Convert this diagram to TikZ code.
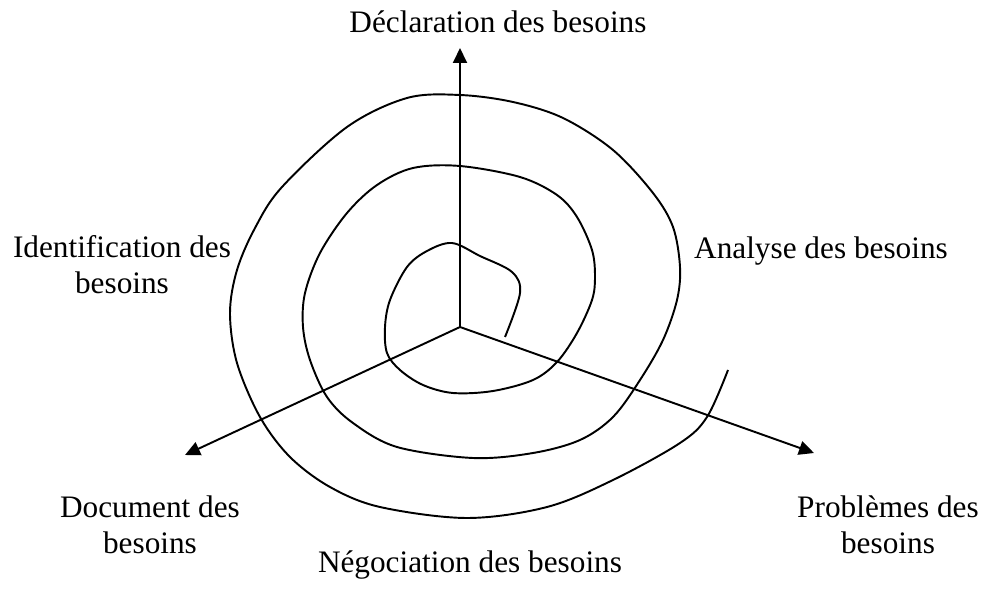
\documentclass[tikz,border=0pt]{standalone}
\usepackage{fontspec}
\setmainfont{Liberation Serif}
\usetikzlibrary{arrows.meta}

\begin{document}
\begin{tikzpicture}[
    x=0.02cm, y=-0.02cm,
    % Define the style for the labels
    phase/.style={
        font=\fontsize{17.8}{20.4}\selectfont,
        align=center,
        inner sep=0pt,
        anchor=base
    },
    % Define style for axes
    axis/.style={
        -{Triangle[length=0.3cm, width=0.28cm]},
        line width=1.1pt
    },
    % Define style for the spiral
    spiral/.style={
        line width=1.1pt,
        line join=round
    }
]
\useasboundingbox (0,0) rectangle (987,598);

% Centre and axis ends
\coordinate (o) at (460,327);
\coordinate (up) at (460,48);
\coordinate (left) at (185,455);
\coordinate (right) at (814,453);

% Labels (base = last line)
\node (decl) [phase] at (498,33) {Déclaration des besoins};
\node (anal) [phase] at (821,258) {Analyse des besoins};
\node (ident) [phase] at (122,293) {Identification des\\besoins};
\node (doc) [phase] at (150,553) {Document des\\besoins};
\node (prob) [phase] at (888,553) {Problèmes des\\besoins};
\node (nego) [phase] at (470,572) {Négociation des besoins};

% Axes
\draw [axis] (o) -- (up);
\draw [axis] (o) -- (left);
\draw [axis] (o) -- (right);

% Spiral
\draw [spiral] plot [smooth, tension=0.55] coordinates {
    (505,337) (520,293) (512,272) (480,256) (452,243) (427,251) (407,267)
    (390,300) (385,327) (387,353) (400,370) (423,385) (453,393) (493,391)
    (533,380) (557,362) (577,333) (592,300) (595,277) (592,250) (577,217)
    (557,195) (520,177) (460,166) (413,168) (377,185) (347,213) (320,253)
    (305,293) (303,327) (310,360) (327,397) (353,423) (397,447) (473,458)
    (533,453) (580,440) (613,417) (640,380) (663,340) (677,300) (680,267)
    (673,227) (653,193) (613,150) (563,118) (513,102) (460,95) (407,98)
    (347,127) (282,187) (255,228) (237,270) (230,313) (237,363) (260,417)
    (290,457) (330,487) (380,507) (467,518) (547,507) (613,480) (680,443)
    (707,417) (728,370)
};

\end{tikzpicture}
\end{document}
